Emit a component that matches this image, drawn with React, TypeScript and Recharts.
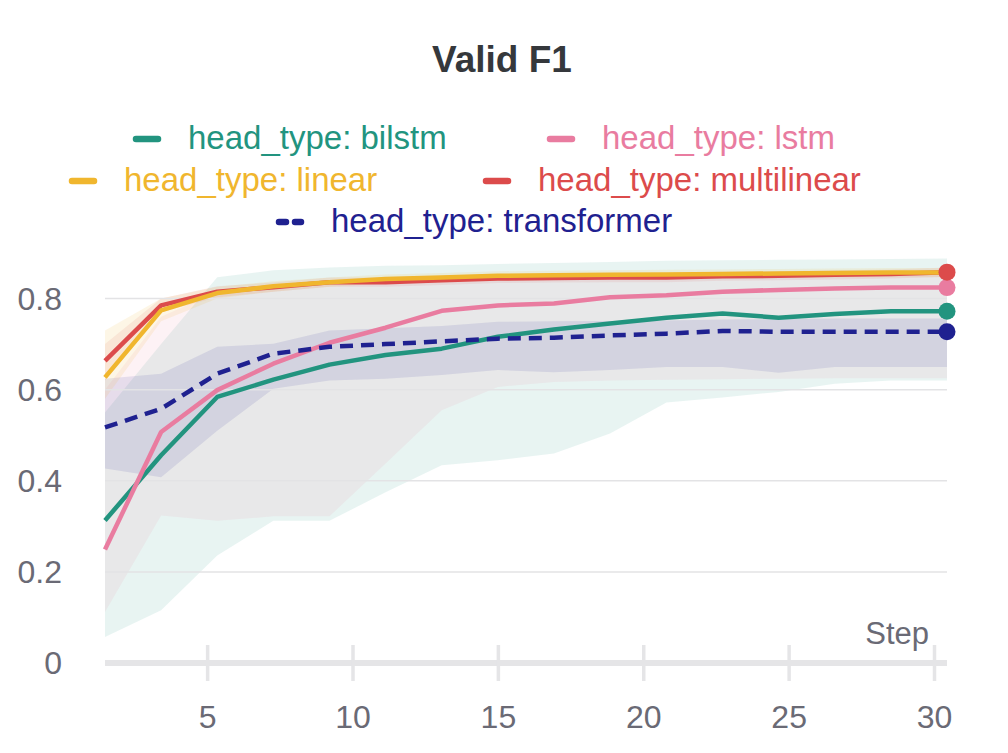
import React from 'react'
import { ComposedChart, Line, Area, XAxis, YAxis, ReferenceLine } from 'recharts'

// step values of the logged points
const steps = [1.47, 3.4, 5.33, 7.26, 9.19, 11.12, 13.05, 14.98, 16.91, 18.84, 20.78, 22.71, 24.64, 26.57, 28.5, 30.43]

const bilstm = [0.313, 0.456, 0.584, 0.622, 0.655, 0.676, 0.69, 0.716, 0.732, 0.745, 0.758, 0.767, 0.758, 0.766, 0.772, 0.772]
const lstm = [0.249, 0.507, 0.599, 0.657, 0.703, 0.736, 0.773, 0.785, 0.789, 0.803, 0.807, 0.815, 0.819, 0.822, 0.824, 0.824]
const linear = [0.627, 0.774, 0.812, 0.827, 0.836, 0.843, 0.846, 0.85, 0.851, 0.852, 0.853, 0.854, 0.855, 0.856, 0.857, 0.857]
const multilinear = [0.663, 0.785, 0.815, 0.825, 0.836, 0.836, 0.84, 0.844, 0.845, 0.846, 0.846, 0.849, 0.85, 0.852, 0.854, 0.858]
const transformer = [0.517, 0.558, 0.635, 0.679, 0.694, 0.7, 0.706, 0.712, 0.714, 0.719, 0.723, 0.729, 0.727, 0.727, 0.727, 0.727]

// min / max envelopes
const bilstmMin = [0.057, 0.116, 0.236, 0.312, 0.312, 0.375, 0.434, 0.445, 0.46, 0.504, 0.572, 0.583, 0.595, 0.613, 0.62, 0.62]
const bilstmMax = [0.55, 0.7, 0.847, 0.862, 0.868, 0.872, 0.873, 0.876, 0.878, 0.88, 0.883, 0.884, 0.885, 0.886, 0.887, 0.888]
const lstmMin = [0.112, 0.324, 0.312, 0.322, 0.322, 0.438, 0.555, 0.606, 0.617, 0.62, 0.622, 0.623, 0.624, 0.625, 0.625, 0.625]
const lstmMax = [0.6, 0.76, 0.815, 0.83, 0.84, 0.845, 0.848, 0.85, 0.852, 0.853, 0.855, 0.856, 0.857, 0.858, 0.86, 0.86]
const linearMin = [0.58, 0.75, 0.8, 0.815, 0.826, 0.833, 0.836, 0.84, 0.841, 0.842, 0.843, 0.844, 0.845, 0.846, 0.847, 0.847]
const linearMax = [0.73, 0.8, 0.826, 0.838, 0.846, 0.853, 0.856, 0.86, 0.861, 0.862, 0.863, 0.864, 0.865, 0.866, 0.867, 0.867]
const multilinearMin = [0.62, 0.77, 0.803, 0.815, 0.826, 0.826, 0.83, 0.834, 0.835, 0.836, 0.836, 0.839, 0.84, 0.842, 0.844, 0.848]
const multilinearMax = [0.7, 0.8, 0.827, 0.835, 0.846, 0.846, 0.85, 0.854, 0.855, 0.856, 0.856, 0.859, 0.86, 0.862, 0.864, 0.868]
const transformerMin = [0.427, 0.408, 0.51, 0.602, 0.62, 0.624, 0.632, 0.643, 0.638, 0.643, 0.65, 0.65, 0.637, 0.65, 0.65, 0.65]
const transformerMax = [0.624, 0.635, 0.694, 0.701, 0.73, 0.735, 0.74, 0.749, 0.75, 0.751, 0.752, 0.754, 0.755, 0.756, 0.756, 0.756]

const xTicks = [5, 10, 15, 20, 25, 30]
const yTicks = [0, 0.2, 0.4, 0.6, 0.8]

const COLORS = {
  bilstm: '#22947f',
  lstm: '#e97ca0',
  linear: '#f0b62e',
  multilinear: '#dc4b4b',
  transformer: '#1f2190',
}

const FONT = '"Liberation Sans", Arial, sans-serif'
const AXIS_GRAY = '#e5e5e7'
const TEXT_GRAY = '#6a6a75'

const data = steps.map((step, i) => ({
  step,
  bilstm: bilstm[i],
  lstm: lstm[i],
  linear: linear[i],
  multilinear: multilinear[i],
  transformer: transformer[i],
  bilstmBand: [bilstmMin[i], bilstmMax[i]],
  lstmBand: [lstmMin[i], lstmMax[i]],
  linearBand: [linearMin[i], linearMax[i]],
  multilinearBand: [multilinearMin[i], multilinearMax[i]],
  transformerBand: [transformerMin[i], transformerMax[i]],
}))

const lastIndex = steps.length - 1

const endDot = (color: string) => (props: any) => {
  if (props.index !== lastIndex) return <g key={`d-${props.index}`} />
  return <circle key={`d-${props.index}`} cx={props.cx} cy={props.cy} r={8.5} fill={color} />
}

const XTick = (props: any) => {
  const { x, y, payload } = props
  return (
    <g>
      <line x1={x} x2={x} y1={y - 18} y2={y + 18} stroke={AXIS_GRAY} strokeWidth={3.5} />
      <text x={x} y={y + 65} textAnchor="middle" fontSize={32} fill={TEXT_GRAY} fontFamily={FONT}>
        {payload.value}
      </text>
    </g>
  )
}

const StepLabel = (props: any) => {
  const { viewBox } = props
  return (
    <text x={viewBox.x + viewBox.width - 18} y={viewBox.y - 19} textAnchor="end" fontSize={31} fill={TEXT_GRAY} fontFamily={FONT}>
      Step
    </text>
  )
}

// legend layout: [label, color, icon left, row baseline, dashed]
const legendItems: [string, string, number, number, boolean][] = [
  ['head_type: bilstm', COLORS.bilstm, 133, 149, false],
  ['head_type: lstm', COLORS.lstm, 547, 149, false],
  ['head_type: linear', COLORS.linear, 69, 191, false],
  ['head_type: multilinear', COLORS.multilinear, 483, 191, false],
  ['head_type: transformer', COLORS.transformer, 276, 232, true],
]

function Header() {
  return (
    <svg width={1008} height={250} style={{ position: 'absolute', left: 0, top: 0 }}>
      <text x={502} y={72} textAnchor="middle" fontSize={37} fontWeight="bold" fill="#35383c" fontFamily={FONT}>
        Valid F1
      </text>
      {legendItems.map(([label, color, left, base, dashed]) => (
        <g key={label}>
          <line
            x1={left + 3}
            x2={left + 25}
            y1={base - 10}
            y2={base - 10}
            stroke={color}
            strokeWidth={6.5}
            strokeLinecap="round"
            strokeDasharray={dashed ? '7 9' : undefined}
          />
          <text x={left + 55} y={base} fontSize={33} fill={color} fontFamily={FONT}>
            {label}
          </text>
        </g>
      ))}
    </svg>
  )
}

export default function App() {
  return (
    <div style={{ position: 'absolute', left: 0, top: 0, width: 1008, height: 753, background: '#fff' }}>
      <ComposedChart width={1008} height={753} data={data} margin={{ top: 253, right: 61, bottom: 30, left: 0 }}>
        <XAxis
          dataKey="step"
          type="number"
          domain={['dataMin', 'dataMax']}
          ticks={xTicks}
          interval={0}
          tickSize={0}
          tickMargin={0}
          tick={<XTick />}
          axisLine={{ stroke: AXIS_GRAY, strokeWidth: 6 }}
          height={60}
          label={<StepLabel />}
        />
        <YAxis
          domain={[0, 0.9]}
          ticks={yTicks}
          width={105}
          tickSize={0}
          tickMargin={43}
          axisLine={false}
          tickLine={false}
          tickFormatter={(v: number) => String(v)}
          tick={{ fontSize: 32, fill: TEXT_GRAY, fontFamily: FONT }}
        />
        {yTicks.slice(1).map((t) => (
          <ReferenceLine key={t} y={t} stroke="#e3e3e5" strokeWidth={1.5} />
        ))}
        <Area type="linear" dataKey="bilstmBand" stroke="none" fill={COLORS.bilstm} fillOpacity={0.1} isAnimationActive={false} />
        <Area type="linear" dataKey="lstmBand" stroke="none" fill={COLORS.lstm} fillOpacity={0.1} isAnimationActive={false} />
        <Area type="linear" dataKey="transformerBand" stroke="none" fill={COLORS.transformer} fillOpacity={0.1} isAnimationActive={false} />
        <Area type="linear" dataKey="multilinearBand" stroke="none" fill={COLORS.multilinear} fillOpacity={0.1} isAnimationActive={false} />
        <Area type="linear" dataKey="linearBand" stroke="none" fill={COLORS.linear} fillOpacity={0.12} isAnimationActive={false} />
        <Line type="linear" dataKey="bilstm" stroke={COLORS.bilstm} strokeWidth={4.5} strokeLinejoin="round" dot={endDot(COLORS.bilstm)} activeDot={false} isAnimationActive={false} />
        <Line type="linear" dataKey="lstm" stroke={COLORS.lstm} strokeWidth={4.5} strokeLinejoin="round" dot={endDot(COLORS.lstm)} activeDot={false} isAnimationActive={false} />
        <Line type="linear" dataKey="transformer" stroke={COLORS.transformer} strokeWidth={4.5} strokeDasharray="13 8" dot={endDot(COLORS.transformer)} activeDot={false} isAnimationActive={false} />
        <Line type="linear" dataKey="multilinear" stroke={COLORS.multilinear} strokeWidth={4.5} strokeLinejoin="round" dot={endDot(COLORS.multilinear)} activeDot={false} isAnimationActive={false} />
        <Line type="linear" dataKey="linear" stroke={COLORS.linear} strokeWidth={4.5} strokeLinejoin="round" dot={false} activeDot={false} isAnimationActive={false} />
      </ComposedChart>
      <Header />
    </div>
  )
}
